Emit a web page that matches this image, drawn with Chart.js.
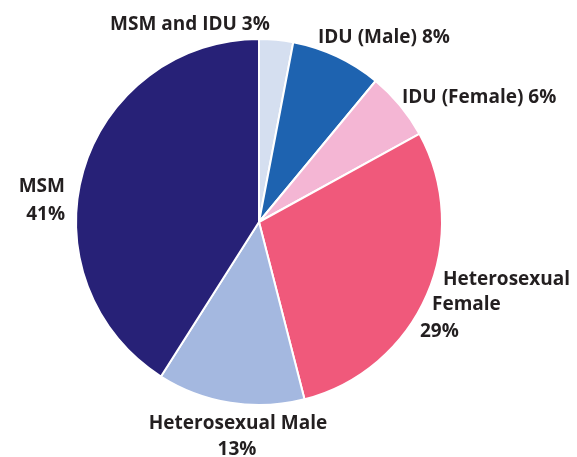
<!DOCTYPE html>
<html>
<head>
<meta charset="utf-8">
<script src="https://cdn.jsdelivr.net/npm/chart.js@4.4.0/dist/chart.umd.min.js"></script>
<style>
  html, body { margin: 0; padding: 0; background: #fff; }
  canvas { display: block; }
</style>
</head>
<body>
<canvas id="pieChart" width="577" height="457"></canvas>
<script>
// Data
const categories = ['MSM and IDU', 'IDU (Male)', 'IDU (Female)', 'Heterosexual Female', 'Heterosexual Male', 'MSM'];
const shares = [3, 8, 6, 29, 13, 41];
const sliceColors = ['#d5dff0', '#1e63b0', '#f4b6d4', '#f0597b', '#a4b8e0', '#272177'];

// Label text lines (baseline positions relative to the pie centre)
const labelLines = [
    [{ t: 'MSM and IDU 3%', dx: -149, dy: -192, align: 'left' }],
    [{ t: 'IDU (Male) 8%', dx: 59, dy: -179, align: 'left' }],
    [{ t: 'IDU (Female) 6%', dx: 143, dy: -119, align: 'left' }],
    [
        { t: 'Heterosexual', dx: 184, dy: 63, align: 'left' },
        { t: 'Female', dx: 173, dy: 88, align: 'left' },
        { t: '29%', dx: 161, dy: 115, align: 'left' }
    ],
    [
        { t: 'Heterosexual Male', dx: -21, dy: 207, align: 'center' },
        { t: '13%', dx: -22, dy: 233, align: 'center' }
    ],
    [
        { t: 'MSM', dx: -194, dy: -30, align: 'right' },
        { t: '41%', dx: -194, dy: -2, align: 'right' }
    ]
];

const sliceLabels = {
    id: 'sliceLabels',
    afterDraw(chart) {
        const arc = chart.getDatasetMeta(0).data[0];
        const cx = arc.x, cy = arc.y;
        const ctx = chart.ctx;
        ctx.save();
        ctx.font = 'bold 19px "Open Sans", sans-serif';
        ctx.fillStyle = '#231f20';
        ctx.textBaseline = 'alphabetic';
        labelLines.forEach(lines => {
            lines.forEach(l => {
                ctx.textAlign = l.align;
                ctx.fillText(l.t, cx + l.dx, cy + l.dy);
            });
        });
        ctx.restore();
    }
};

const ctx = document.getElementById('pieChart').getContext('2d');
new Chart(ctx, {
    type: 'pie',
    data: {
        labels: categories,
        datasets: [{
            data: shares,
            backgroundColor: sliceColors,
            borderColor: '#ffffff',
            borderWidth: 2
        }]
    },
    options: {
        responsive: false,
        animation: false,
        radius: 183,
        layout: { padding: { left: 76, right: 135, top: 39, bottom: 52 } },
        plugins: {
            legend: { display: false },
            tooltip: { enabled: false }
        }
    },
    plugins: [sliceLabels]
});
</script>
</body>
</html>
